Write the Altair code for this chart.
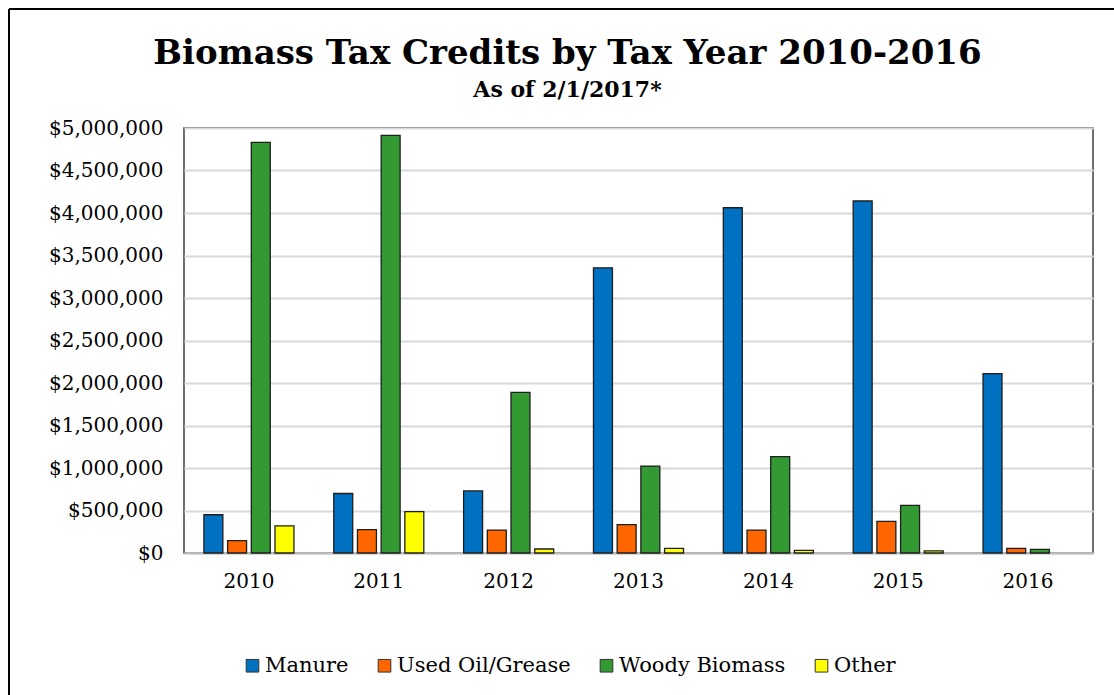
import altair as alt
import pandas as pd

years = ["2010", "2011", "2012", "2013", "2014", "2015", "2016"]
series = ["Manure", "Used Oil/Grease", "Woody Biomass", "Other"]
manure = [450000, 700000, 730000, 3355000, 4062000, 4141000, 2110000]
used_oil = [145000, 275000, 270000, 333000, 270000, 372000, 54000]
woody = [4830000, 4913000, 1890000, 1023000, 1133000, 560000, 42000]
other = [320000, 486000, 47000, 54000, 31000, 24000, 0]
colors = ["#0070C0", "#FF6600", "#339933", "#FFFF00"]
y_ticks = [0, 500000, 1000000, 1500000, 2000000, 2500000, 3000000,
           3500000, 4000000, 4500000, 5000000]

rows = []
for s, vals in zip(series, [manure, used_oil, woody, other]):
    for yr, v in zip(years, vals):
        rows.append({"year": yr, "series": s, "value": v})
df = pd.DataFrame(rows)

FONT = "DejaVu Serif"
PL, PT, W, H = 184, 128, 909, 425

bars = alt.Chart(df).transform_filter("datum.value > 0").mark_bar(
    stroke="#1e1e1e", strokeWidth=1.3
).encode(
    x=alt.X("year:N", sort=years,
            scale=alt.Scale(paddingInner=0, paddingOuter=0),
            axis=alt.Axis(title=None, labelAngle=0, labelFont=FONT, labelFontSize=20,
                          labelColor="#000000", ticks=False, domainColor="#bfbfbf",
                          domainWidth=2, labelPadding=18, grid=False)),
    xOffset=alt.XOffset("series:N", sort=series,
                        scale=alt.Scale(paddingInner=0.2, paddingOuter=0.84)),
    y=alt.Y("value:Q", scale=alt.Scale(domain=[0, 5000000]),
            axis=alt.Axis(values=y_ticks, format="$,.0f", title=None, ticks=False,
                          domain=False, gridColor="#d9d9d9", gridWidth=2,
                          labelFont=FONT, labelFontSize=20, labelColor="#000000",
                          labelPadding=21)),
    color=alt.Color("series:N", sort=series,
                    scale=alt.Scale(domain=series, range=colors),
                    legend=alt.Legend(title=None, orient="none", direction="horizontal",
                                      legendX=58, legendY=527, symbolType="square",
                                      symbolSize=160, symbolStrokeColor="#333333",
                                      symbolStrokeWidth=1, labelFont=FONT,
                                      labelFontSize=21, labelColor="#000000",
                                      labelOffset=2, columnPadding=25, padding=0,
                                      labelLimit=400)),
)

frame_data = alt.Data(values=[{"k": 1}])
frame_top = alt.Chart(frame_data).mark_rule(color="#000000", strokeWidth=2).encode(
    x=alt.value(9 - PL), x2=alt.value(1114 - PL), y=alt.value(9 - PT)
)
frame_left = alt.Chart(frame_data).mark_rule(color="#000000", strokeWidth=2).encode(
    x=alt.value(9 - PL), y=alt.value(9 - PT), y2=alt.value(695 - PT)
)

chart = alt.layer(frame_top, frame_left, bars).properties(
    width=W, height=H,
    title=alt.TitleParams(
        text="Biomass Tax Credits by Tax Year 2010-2016",
        subtitle="As of 2/1/2017*",
        font=FONT, fontSize=34, fontWeight="bold", color="#000000",
        subtitleFont=FONT, subtitleFontSize=22, subtitleFontWeight="bold",
        subtitleColor="#000000", anchor="middle", dx=-71, offset=-93,
        subtitlePadding=9,
    ),
    autosize=alt.AutoSizeParams(type="none"),
    padding={"left": PL, "top": PT, "right": 1114 - PL - W, "bottom": 695 - PT - H},
    background="#ffffff",
).configure_view(stroke="#404040", strokeWidth=1.5)

chart.save("out.html", embed_options={"renderer": "svg", "actions": False})
